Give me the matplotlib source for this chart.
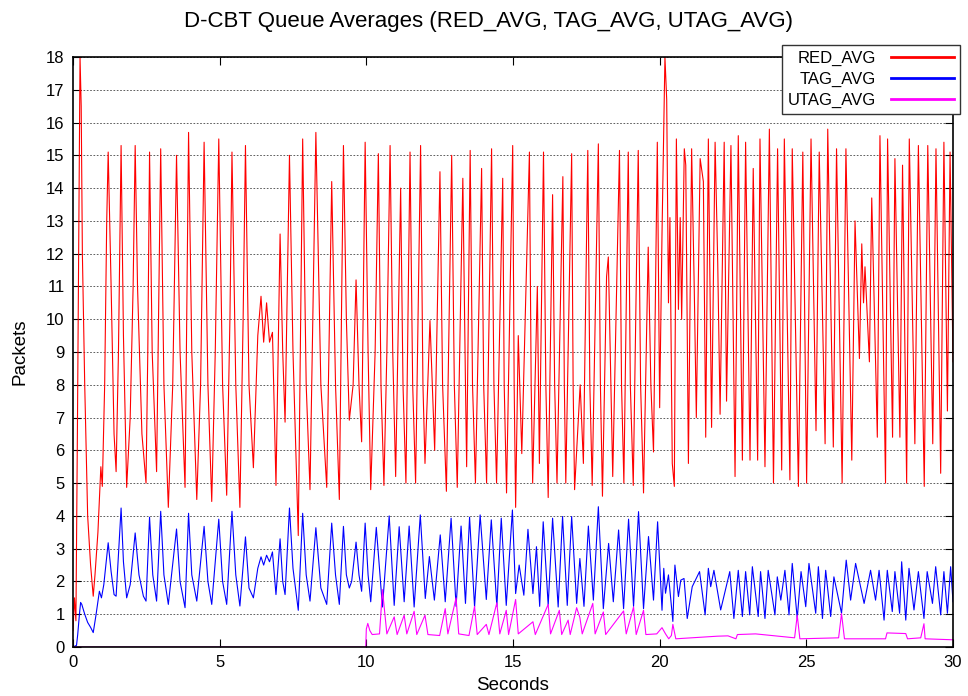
import matplotlib
matplotlib.use('Agg')
import matplotlib.pyplot as plt

# values (time in seconds, queue average in packets)
red_t = [0.0, 0.05, 0.1, 0.15, 0.24, 0.28, 0.32, 0.4, 0.5, 0.6, 0.69, 0.75, 0.85, 0.95, 1.0, 1.08, 1.15,
         1.2, 1.3, 1.4, 1.47, 1.55, 1.64, 1.72, 1.83, 1.95, 2.05, 2.12, 2.2, 2.35, 2.49, 2.55, 2.61, 2.7,
         2.85, 2.99, 3.1, 3.25, 3.4, 3.53, 3.65, 3.82, 3.94, 4.05, 4.22, 4.35, 4.47, 4.6, 4.73, 4.85, 4.97,
         5.1, 5.24, 5.35, 5.42, 5.55, 5.69, 5.8, 5.88, 6.0, 6.15, 6.3, 6.41, 6.5, 6.6, 6.7, 6.8, 6.92, 7.06,
         7.15, 7.23, 7.38, 7.5, 7.68, 7.83, 7.95, 8.08, 8.28, 8.45, 8.65, 8.82, 8.95, 9.08, 9.22, 9.32, 9.42,
         9.55, 9.65, 9.75, 9.84, 9.96, 10.06, 10.15,
         10.3, 10.41, 10.5, 10.6, 10.7, 10.81, 10.9, 11.0, 11.17, 11.25, 11.35, 11.49, 11.58, 11.68, 11.85,
         11.93, 12.0, 12.17, 12.33, 12.51, 12.6, 12.73, 12.91, 13.0, 13.1, 13.29, 13.38, 13.42, 13.54, 13.62,
         13.72, 13.93, 14.0, 14.1, 14.27, 14.35, 14.44, 14.65, 14.7, 14.78, 14.99, 15.04, 15.09, 15.18, 15.3,
         15.56, 15.62, 15.67, 15.83, 15.9, 16.04, 16.12, 16.2, 16.35, 16.42, 16.5, 16.7, 16.75, 16.8, 17.0,
         17.05, 17.1, 17.29, 17.4, 17.55, 17.62, 17.7, 17.91, 17.98, 18.05, 18.19, 18.25, 18.4, 18.63, 18.7,
         18.78, 18.93, 19.0, 19.1, 19.27, 19.35, 19.45, 19.61, 19.7, 19.79, 19.92, 20.0, 20.08,
         20.18, 20.24, 20.3, 20.35, 20.43, 20.5, 20.57, 20.64, 20.7, 20.75, 20.84, 20.89, 20.98, 21.09, 21.18,
         21.25, 21.38, 21.49, 21.57, 21.66, 21.77, 21.89, 21.98, 22.06, 22.2, 22.28, 22.43, 22.57, 22.68,
         22.82, 22.93, 23.08, 23.19, 23.34, 23.42, 23.59, 23.74, 23.88, 24.02, 24.16, 24.25, 24.44, 24.52,
         24.73, 24.88, 25.01, 25.16, 25.33, 25.44, 25.64, 25.73, 25.92, 26.03, 26.22, 26.35, 26.55, 26.66,
         26.81, 26.89, 26.95, 27.0, 27.15, 27.23, 27.42, 27.51, 27.7, 27.77, 27.94, 28.02, 28.19, 28.28,
         28.42, 28.51, 28.7, 28.82, 29.02, 29.14, 29.31, 29.42, 29.58, 29.69, 29.81, 29.9, 30.0]
red_v = [0.5, 1.5, 0.8, 6.5, 18.0, 16.5, 12.0, 8.0, 4.0, 2.5, 1.55, 2.2, 3.5, 5.5, 4.9, 8.0, 13.0,
         15.1, 11.0, 6.5, 5.35, 9.0, 15.3, 9.5, 4.87, 7.0, 11.0, 15.3, 11.0, 6.5, 5.0, 9.0, 15.1, 9.0,
         5.35, 15.2, 8.0, 4.26, 8.0, 15.0, 9.0, 4.87, 15.7, 9.0, 4.5, 8.0, 15.4, 8.0, 4.44, 9.0, 15.5,
         8.0, 4.63, 10.0, 15.1, 8.0, 4.26, 10.0, 15.3, 8.0, 5.47, 9.5, 10.7, 9.3, 10.5, 9.3, 9.6, 4.93, 12.6,
         9.0, 6.86, 15.0, 9.0, 3.4, 15.5, 8.0, 4.8, 15.7, 8.0, 4.87, 14.2, 8.0, 4.5, 15.3, 10.0, 6.92,
         8.0, 11.2, 8.0, 6.26, 15.4, 9.0, 4.8,
         9.0, 15.05, 8.0, 4.93, 9.0, 15.3, 9.0, 5.2, 14.0, 8.0, 5.0, 15.1, 8.0, 5.0, 15.3,
         8.0, 5.6, 9.96, 6.0, 14.5, 8.0, 4.75, 15.0, 8.0, 4.87, 14.3, 8.0, 5.5, 15.15, 8.0,
         5.0, 14.6, 8.0, 5.0, 15.2, 8.0, 5.0, 14.3, 8.0, 4.7, 15.3, 8.0, 4.26, 9.5, 5.9,
         15.1, 8.0, 5.0, 11.0, 5.6, 15.1, 8.0, 4.56, 13.8, 8.0, 5.0, 14.35, 8.0, 5.0, 15.05,
         8.0, 4.8, 8.0, 5.6, 15.15, 8.0, 4.93, 15.35, 8.0, 4.6, 11.3, 11.9, 5.2, 15.15, 8.0,
         5.0, 15.1, 8.0, 4.93, 15.15, 8.0, 4.7, 12.2, 8.0, 5.95, 15.4, 7.3, 12.6,
         18.0, 16.7, 10.5, 13.1, 5.6, 4.9, 15.5, 10.3, 13.1, 10.0, 15.2, 14.7, 5.6, 15.2, 10.9,
         7.0, 14.9, 14.2, 6.4, 15.5, 6.7, 15.4, 11.7, 7.1, 15.4, 7.5, 15.3, 5.2, 15.6,
         5.7, 15.4, 5.7, 14.6, 5.7, 15.5, 5.5, 15.8, 5.0, 15.2, 5.4, 15.5, 5.1, 15.2,
         4.9, 15.1, 5.0, 15.5, 6.6, 15.1, 6.2, 15.8, 6.1, 15.2, 5.0, 15.2, 5.7, 13.0,
         8.8, 12.3, 10.5, 11.6, 8.7, 13.7, 6.4, 15.6, 5.0, 15.5, 6.4, 14.9, 6.4, 14.7,
         5.0, 15.5, 6.2, 15.3, 4.9, 15.3, 6.2, 15.2, 5.3, 15.4, 7.2, 15.1, 8.7]

tag_t = [0.0, 0.12, 0.16, 0.22, 0.26, 0.3, 0.4, 0.5, 0.6, 0.69, 0.78, 0.9, 0.97, 1.05, 1.2, 1.3, 1.4, 1.47,
         1.64, 1.72, 1.83, 1.95, 2.12, 2.25, 2.4, 2.49, 2.61, 2.72, 2.85, 2.99, 3.1, 3.25, 3.53, 3.65, 3.82,
         3.94, 4.05, 4.22, 4.47, 4.6, 4.73, 4.97, 5.1, 5.24, 5.42, 5.55, 5.69, 5.88, 6.0, 6.15, 6.3, 6.41,
         6.5, 6.6, 6.7, 6.8, 6.92, 7.06, 7.15, 7.23, 7.38, 7.5, 7.68, 7.83, 7.95, 8.08, 8.28, 8.45, 8.65,
         8.82, 8.95, 9.08, 9.22, 9.32, 9.42, 9.5, 9.65, 9.75, 9.84, 9.96, 10.06, 10.15,
         10.34, 10.55, 10.78, 10.95, 11.12, 11.29, 11.46, 11.63, 11.84, 12.01, 12.15, 12.32, 12.52, 12.69,
         12.89, 13.06, 13.23, 13.38, 13.52, 13.69, 13.88, 14.09, 14.26, 14.45, 14.6, 14.77, 14.98, 15.09,
         15.21, 15.37, 15.51, 15.68, 15.8, 15.91, 16.03, 16.2, 16.35, 16.54, 16.69, 16.85, 17.0, 17.17,
         17.28, 17.42, 17.57, 17.74, 17.91, 18.08, 18.26, 18.42, 18.6, 18.77, 18.94, 19.11, 19.28, 19.45,
         19.62, 19.79, 19.93, 20.08, 20.14,
         20.2, 20.3, 20.45, 20.52, 20.64, 20.72, 20.83, 20.94, 21.11, 21.36, 21.55, 21.66, 21.74, 21.85,
         22.08, 22.39, 22.53, 22.68, 22.82, 22.93, 23.07, 23.16, 23.36, 23.44, 23.59, 23.7, 23.93, 24.01,
         24.13, 24.27, 24.41, 24.52, 24.69, 24.82, 24.98, 25.09, 25.32, 25.41, 25.55, 25.66, 25.83, 25.94,
         26.2, 26.36, 26.51, 26.68, 26.97, 27.19, 27.36, 27.48, 27.65, 27.76, 27.93, 28.02, 28.18, 28.25,
         28.39, 28.5, 28.67, 28.82, 29.01, 29.12, 29.3, 29.41, 29.58, 29.69, 29.81, 29.92, 30.0]
tag_v = [0.0, 0.05, 0.37, 1.0, 1.36, 1.3, 1.0, 0.75, 0.6, 0.44, 0.95, 1.7, 1.5, 1.9, 3.18, 2.3, 1.6, 1.55,
         4.24, 2.6, 1.5, 1.9, 3.48, 2.2, 1.55, 1.4, 3.96, 2.2, 1.4, 4.14, 2.2, 1.3, 3.6, 2.0, 1.2,
         4.08, 2.2, 1.4, 3.68, 2.0, 1.3, 3.9, 2.0, 1.3, 4.14, 2.2, 1.25, 3.36, 1.8, 1.5, 2.4, 2.75,
         2.5, 2.8, 2.6, 2.9, 1.6, 3.3, 2.0, 1.6, 4.24, 2.4, 1.12, 4.08, 2.2, 1.4, 3.64, 1.8, 1.3,
         3.78, 2.2, 1.3, 3.68, 2.2, 1.8, 2.0, 3.2, 2.2, 1.7, 3.78, 2.2, 1.38,
         3.65, 1.22, 4.0, 1.27, 3.67, 1.38, 3.69, 1.22, 4.03, 1.48, 2.76, 1.43, 3.42, 1.38,
         3.93, 1.24, 3.69, 1.33, 3.96, 1.22, 4.03, 1.45, 3.88, 1.24, 3.93, 1.27, 4.18, 1.63,
         2.5, 1.58, 3.59, 1.63, 3.06, 1.24, 3.82, 1.27, 3.93, 1.22, 3.98, 1.27, 3.98, 1.33,
         2.7, 1.24, 3.69, 1.43, 4.28, 1.17, 3.16, 1.38, 3.57, 1.17, 3.9, 1.24, 4.13, 1.17,
         3.37, 1.43, 3.82, 1.12, 2.4,
         1.64, 2.2, 0.78, 2.5, 1.54, 2.04, 2.09, 0.87, 1.84, 2.3, 0.98, 2.4, 1.84, 2.34,
         1.13, 2.3, 0.87, 2.34, 0.93, 2.3, 0.98, 2.45, 0.93, 2.3, 0.87, 2.34, 0.98, 2.14,
         1.43, 2.34, 0.98, 2.55, 0.87, 2.3, 1.23, 2.55, 1.03, 2.45, 0.87, 2.34, 0.93, 2.14,
         1.03, 2.65, 1.43, 2.55, 1.33, 2.34, 1.43, 2.34, 0.82, 2.34, 1.08, 2.3, 1.03, 2.6,
         0.82, 2.4, 1.13, 2.3, 0.87, 2.3, 1.33, 2.45, 0.98, 2.3, 1.03, 2.45, 1.38]

utag_t = [0.0, 9.98, 10.0, 10.05, 10.12, 10.2, 10.45, 10.55, 10.6, 10.7, 10.95, 11.05, 11.29, 11.38,
          11.63, 11.72, 12.0, 12.1, 12.5, 12.69, 12.78, 13.06, 13.15, 13.5, 13.69, 13.78, 14.09, 14.18,
          14.45, 14.55, 14.77, 14.85, 15.09, 15.18, 15.68, 15.76, 16.2, 16.28, 16.58, 16.66, 16.88,
          16.95, 17.17, 17.28, 17.36, 17.72, 17.8, 18.08, 18.16, 18.77, 18.86, 19.11, 19.2, 19.45,
          19.53, 19.9, 20.08, 20.2, 20.31, 20.4, 20.45, 20.55, 21.97, 22.33, 22.6, 22.65, 23.27, 24.6,
          24.69, 24.78, 26.1, 26.2, 26.3, 27.7, 27.75, 28.39, 28.45, 28.9, 29.01, 29.05, 30.0]
utag_v = [0.0, 0.0, 0.55, 0.72, 0.5, 0.38, 0.4, 1.75, 1.3, 0.4, 0.92, 0.38, 0.97, 0.4,
          1.09, 0.38, 0.97, 0.38, 0.35, 1.17, 0.4, 1.5, 0.4, 0.35, 1.24, 0.38, 0.69, 0.38,
          1.35, 0.4, 1.12, 0.38, 1.45, 0.4, 0.77, 0.38, 1.3, 0.4, 1.12, 0.38, 0.82,
          0.38, 1.2, 0.9, 0.4, 1.33, 0.4, 1.07, 0.38, 1.1, 0.4, 1.22, 0.38, 1.12,
          0.38, 0.4, 0.59, 0.4, 0.25, 0.35, 0.69, 0.25, 0.33, 0.34, 0.25, 0.38, 0.4, 0.28,
          0.97, 0.25, 0.28, 1.02, 0.25, 0.25, 0.43, 0.41, 0.25, 0.28, 0.71, 0.25, 0.22]

plt.rcParams['font.family'] = ['Liberation Sans', 'DejaVu Sans']

fig = plt.figure(figsize=(9.68, 6.96), dpi=100)
ax = fig.add_axes([0.0754, 0.0704, 0.9091, 0.8477])

ax.plot(red_t, red_v, color='#ff0000', lw=0.8, label='RED_AVG')
ax.plot(tag_t, tag_v, color='#0000ff', lw=0.8, label='TAG_AVG')
ax.plot(utag_t, utag_v, color='#ff00ff', lw=0.8, label='UTAG_AVG')

ax.set_xlim(0, 30)
ax.set_ylim(0, 18)
ax.set_xticks(range(0, 31, 5))
ax.set_yticks(range(0, 19))
ax.tick_params(direction='in', top=True, right=True, length=6, labelsize=12, pad=6)
ax.yaxis.grid(True, linestyle=(0, (2, 2)), color='#444444', lw=0.6)
ax.set_axisbelow(True)
for s in ax.spines.values():
    s.set_linewidth(1.2)

ax.set_xlabel('Seconds', fontsize=13.5)
ax.set_ylabel('Packets', fontsize=13.5)
ax.xaxis.set_label_coords(0.5, -0.05)
ax.yaxis.set_label_coords(-0.05, 0.5)
fig.text(0.505, 1 - 21 / 696, 'D-CBT Queue Averages (RED_AVG, TAG_AVG, UTAG_AVG)',
         ha='center', va='center', fontsize=16)

leg = ax.legend(loc='upper right', bbox_to_anchor=(960 / 968, 1 - 45 / 696),
                bbox_transform=fig.transFigure, markerfirst=False, fancybox=False,
                edgecolor='#333333', framealpha=1, fontsize=12, handlelength=3.8,
                handletextpad=0.9, borderpad=0.35, labelspacing=0.35, borderaxespad=0)
for l in leg.get_lines():
    l.set_linewidth(2)

fig.savefig('out.png', dpi=100)
